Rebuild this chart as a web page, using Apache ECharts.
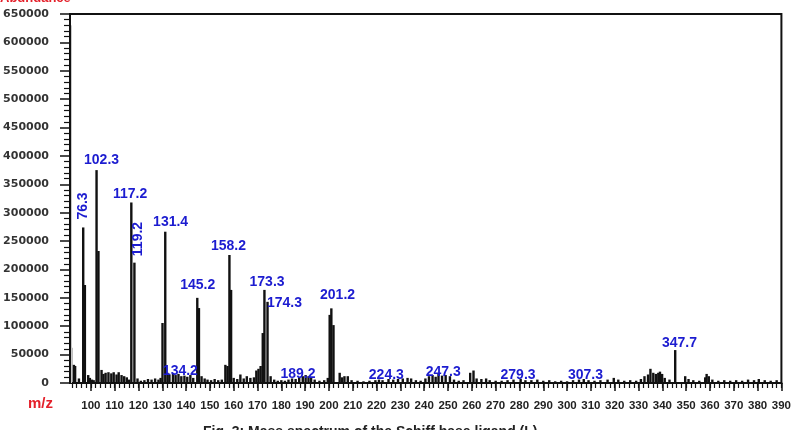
<!DOCTYPE html>
<html>
<head>
<meta charset="utf-8">
<script src="https://cdn.jsdelivr.net/npm/echarts@6/dist/echarts.min.js"></script>
<style>
  html, body { margin: 0; padding: 0; background: #fff; }
  #chart { width: 794px; height: 430px; }
</style>
</head>
<body>
<div id="chart"></div>
<script>
// main fragment peaks (m/z, abundance)
var peakMz    = [96.8, 97.5, 102.4, 103.2, 117.0, 118.3, 130.1, 131.25, 144.7, 145.4, 158.2, 158.9, 172.2, 172.9, 174.2, 200.3, 201.0, 201.9, 345.4];
var peakAbund = [274000, 172600, 375000, 232500, 318000, 212000, 105700, 266500, 150000, 132000, 225500, 164000, 88000, 164000, 143000, 120000, 131500, 102000, 58000];

// small background peaks
var noiseMz = [91.7, 92.9, 93.4, 95.0, 98.9, 99.6, 100.5, 101.2, 104.5, 105.3, 106.2, 107.4, 108.6, 109.6, 110.8, 111.7, 112.9, 114.0, 115.1, 116.0,
  119.6, 121.0, 122.5, 124.0, 125.5, 127.0, 128.4, 129.3, 132.2, 133.0, 134.5, 135.6, 136.8, 138.0, 139.3, 140.5, 141.8, 143.0,
  146.5, 147.8, 149.0, 150.5, 152.0, 153.5, 155.0, 156.5, 157.4, 160.0, 161.5, 162.8, 164.2, 165.5, 167.0, 168.5, 169.5, 170.4, 171.3,
  175.5, 177.0, 178.5, 180.0, 181.5, 183.0, 184.5, 186.0, 187.5, 189.0, 190.2, 191.4, 192.5, 194.0, 196.0, 198.0, 199.5,
  204.5, 205.5, 206.5, 207.9, 209.5, 212.0, 214.5, 217.0, 219.5, 221.0, 222.5, 225.0, 227.0, 229.0, 231.0, 233.0, 234.5, 236.5, 238.5,
  240.5, 242.0, 243.5, 244.8, 246.0, 247.5, 249.0, 250.8, 252.5, 254.5, 256.5, 259.3, 260.7, 262.0, 264.0, 266.0, 267.5, 270.0,
  272.5, 275.0, 277.5, 280.5, 282.5, 285.0, 287.5, 290.0, 292.5, 295.0, 297.5, 300.0, 302.5, 305.0, 307.0, 309.0, 311.5, 314.0,
  317.0, 319.6, 321.5, 324.0, 326.5, 329.0, 331.0, 332.5, 334.0, 335.0, 336.2, 337.3, 338.3, 339.0, 339.9, 341.0, 343.0,
  349.6, 351.0, 353.0, 355.5, 358.0, 358.6, 359.5, 361.0, 363.5, 366.0, 368.5, 371.0, 373.5, 376.0, 378.5, 380.5, 383.0, 385.5, 388.0];
var noiseAbund = [62000, 32000, 30000, 8000, 14000, 9000, 6000, 5000, 23000, 16000, 18000, 19000, 17000, 19000, 15000, 19000, 14000, 12000, 10000, 6000,
  8000, 4000, 5000, 7000, 6000, 8000, 6000, 9000, 18000, 15000, 17000, 14000, 16000, 12000, 13000, 11000, 14000, 9000,
  12000, 8000, 6000, 5000, 7000, 5000, 6000, 32000, 30000, 9000, 7000, 15000, 8000, 12000, 9000, 10000, 22000, 25000, 30000,
  12000, 6000, 4000, 5000, 4000, 6000, 8000, 7000, 10000, 12000, 14000, 12000, 10000, 6000, 4000, 5000, 9000,
  18000, 10000, 12000, 12000, 5000, 4000, 3000, 4000, 5000, 6000, 5000, 7000, 6000, 7000, 8000, 9000, 8000, 5000, 4000,
  8000, 12000, 14000, 11000, 16000, 13000, 14000, 12000, 6000, 4000, 5000, 18000, 22000, 8000, 7000, 8000, 5000, 4000,
  4000, 5000, 6000, 7000, 5000, 5000, 6000, 4000, 5000, 3000, 4000, 3000, 5000, 6000, 7000, 5000, 4000, 5000,
  6000, 9000, 6000, 4000, 5000, 4000, 7000, 12000, 15000, 25000, 18000, 16000, 18000, 20000, 16000, 9000, 6000,
  12000, 7000, 5000, 4000, 10000, 16000, 12000, 6000, 4000, 5000, 4000, 5000, 4000, 6000, 5000, 7000, 5000, 4000, 5000];

// faint tall trace at the left edge
var faintMz = 91.6, faintAbund = 630000;

// peak annotations: text, m/z and abundance of the text centre, rotation
var labelText  = ['76.3', '102.3', '117.2', '119.2', '131.4', '134.2', '145.2', '158.2', '173.3', '174.3', '189.2', '201.2', '224.3', '247.3', '279.3', '307.3', '347.7'];
var labelMz    = [96.8, 104.5, 116.5, 120.0, 133.5, 137.6, 144.9, 157.8, 174.0, 181.3, 187.0, 203.6, 224.1, 248.0, 279.4, 307.7, 347.2];
var labelAbund = [311800, 392800, 331900, 253600, 283700, 20300, 172900, 240500, 178300, 140900, 15900, 154100, 14100, 19400, 14100, 14100, 70400];
var labelRot   = [90, 0, 0, 90, 0, 0, 0, 0, 0, 0, 0, 0, 0, 0, 0, 0, 0];

var xMajor = [100, 110, 120, 130, 140, 150, 160, 170, 180, 190, 200, 210, 220, 230, 240, 250, 260, 270, 280, 290, 300, 310, 320, 330, 340, 350, 360, 370, 380, 390];
var xMinor = [];
for (var v = 92; v <= 390; v += 2) xMinor.push(v);

var bars = [];
peakMz.forEach(function (m, i) { bars.push([m, peakAbund[i]]); });
noiseMz.forEach(function (m, i) { bars.push([m, noiseAbund[i]]); });

var labels = labelText.map(function (t, i) {
    return {name: t, value: [labelMz[i], labelAbund[i]], label: {rotate: labelRot[i]}};
});

var chart = echarts.init(document.getElementById('chart'));
var xMin = 91.25, xMax = 390;

chart.setOption({
    animation: false,
    grid: {left: 70, right: 7, top: 14, bottom: 47, show: true, borderColor: '#111', borderWidth: 2, backgroundColor: 'transparent'},
    xAxis: [{
        type: 'value', min: xMin, max: xMax, position: 'bottom',
        axisLine: {lineStyle: {color: '#111', width: 2}},
        axisTick: {customValues: xMajor, length: 8, lineStyle: {color: '#111', width: 1.5}},
        axisLabel: {customValues: xMajor, margin: 17, color: '#222', fontFamily: 'Liberation Sans', fontWeight: 'bold', fontSize: 11.5},
        splitLine: {show: false}
    }, {
        type: 'value', min: xMin, max: xMax, position: 'bottom', gridIndex: 0,
        axisLine: {show: false},
        axisTick: {customValues: xMinor, length: 5, lineStyle: {color: '#111', width: 1.2}},
        axisLabel: {show: false},
        splitLine: {show: false}
    }],
    yAxis: {
        type: 'value', min: 0, max: 650000, interval: 50000,
        axisLine: {show: true, lineStyle: {color: '#111', width: 2}},
        axisTick: {show: true, length: 10, lineStyle: {color: '#111', width: 1.5}},
        minorTick: {show: true, splitNumber: 5, length: 6, lineStyle: {color: '#111', width: 1.2}},
        axisLabel: {
            margin: 21, color: '#333', fontFamily: 'DejaVu Sans', fontWeight: 'bold', fontSize: 11,
            formatter: function (val) { return String(val); }
        },
        splitLine: {show: false}
    },
    series: [{
        type: 'bar', barWidth: 2.4, data: bars,
        itemStyle: {color: '#111'},
        markLine: {
            silent: true, symbol: 'none', label: {show: false},
            lineStyle: {color: '#c8c8c8', width: 1, type: 'solid'},
            data: [[{coord: [faintMz, 0]}, {coord: [faintMz, faintAbund]}]]
        }
    }, {
        type: 'scatter', symbolSize: 0, data: labels, z: 5,
        itemStyle: {opacity: 1},
        label: {
            show: true, position: 'inside', formatter: '{b}', opacity: 1,
            color: '#1c1cd0', textBorderWidth: 0, fontFamily: 'Liberation Sans', fontWeight: 'bold', fontSize: 14
        }
    }],
    graphic: [
        {type: 'text', left: 0, top: -8, style: {text: 'Abundance', fill: '#e4202a', font: 'bold 13px "Liberation Sans"'}},
        {type: 'text', left: 28, top: 396, style: {text: 'm/z', fill: '#e4202a', font: 'bold 15px "Liberation Sans"'}},
        {type: 'text', left: 203, top: 425, style: {text: 'Fig. 3: Mass spectrum of the Schiff base ligand (L)', fill: '#222', font: 'bold 14px "Liberation Sans"'}}
    ]
});
</script>
</body>
</html>
